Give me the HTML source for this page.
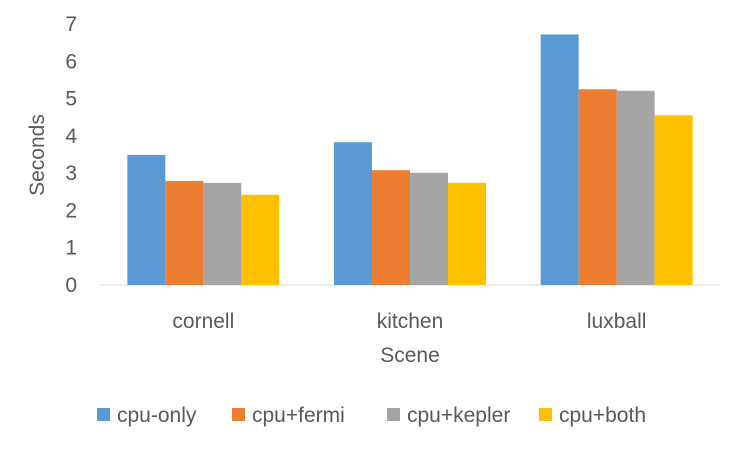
<!DOCTYPE html>
<html><head><meta charset="utf-8"><style>
body{margin:0;background:#fff;}
text{font-family:"Liberation Sans",sans-serif;fill:#595959;}
</style></head><body>
<svg id="chart" width="750" height="449">
<g id="axes"></g><g id="bars"></g><g id="legend"></g>
<text x="44" y="155" font-size="21" text-anchor="middle" transform="rotate(-90 44 155)">Seconds</text>
<text x="410" y="362" font-size="21" text-anchor="middle">Scene</text>
</svg>
<script>
const categories=["cornell","kitchen","luxball"];
const seriesNames=["cpu-only","cpu+fermi","cpu+kepler","cpu+both"];
const cpuOnly=[3.49,3.83,6.72];
const cpuFermi=[2.79,3.08,5.25];
const cpuKepler=[2.74,3.01,5.21];
const cpuBoth=[2.42,2.74,4.55];
const yTicks=[0,1,2,3,4,5,6,7];
const colors=["#5b9bd5","#ed7d31","#a5a5a5","#ffc000"];
const series=[cpuOnly,cpuFermi,cpuKepler,cpuBoth];
const NS="http://www.w3.org/2000/svg";
const x0=100,x1=720,y0=285,yTop=24,yMax=7;
const y=v=>y0-(v/yMax)*(y0-yTop);
const band=(x1-x0)/categories.length,bw=38;
function mk(t,a,p){const e=document.createElementNS(NS,t);for(const k in a)e.setAttribute(k,a[k]);p.appendChild(e);return e;}
const axes=document.getElementById('axes');
const ax=mk('line',{x1:x0,x2:x1,y1:y0,y2:y0,stroke:'#d9d9d9','stroke-width':1},axes);


yTicks.forEach(t=>{const e=mk('text',{x:77,y:y(t)+7,'font-size':21,'text-anchor':'end'},axes);e.textContent=t;

});
categories.forEach((c,i)=>{const cx=x0+band*(i+0.5);
const e=mk('text',{x:cx,y:328,'font-size':21,'text-anchor':'middle'},axes);e.textContent=c;


series.forEach((s,j)=>{const bx=cx-2*bw+j*bw;
const r=mk('rect',{x:bx,y:y(s[i]),width:bw,height:y0-y(s[i]),fill:colors[j]},document.getElementById('bars'));

});});
const lg=document.getElementById('legend');
const lx=[97,232,387,539];
seriesNames.forEach((n,j)=>{const g=mk('g',{},lg);


mk('rect',{x:lx[j],y:408,width:13,height:13,fill:colors[j]},g);
const t=mk('text',{x:lx[j]+20,y:422,'font-size':21},g);t.textContent=n;});
</script>
</body></html>
